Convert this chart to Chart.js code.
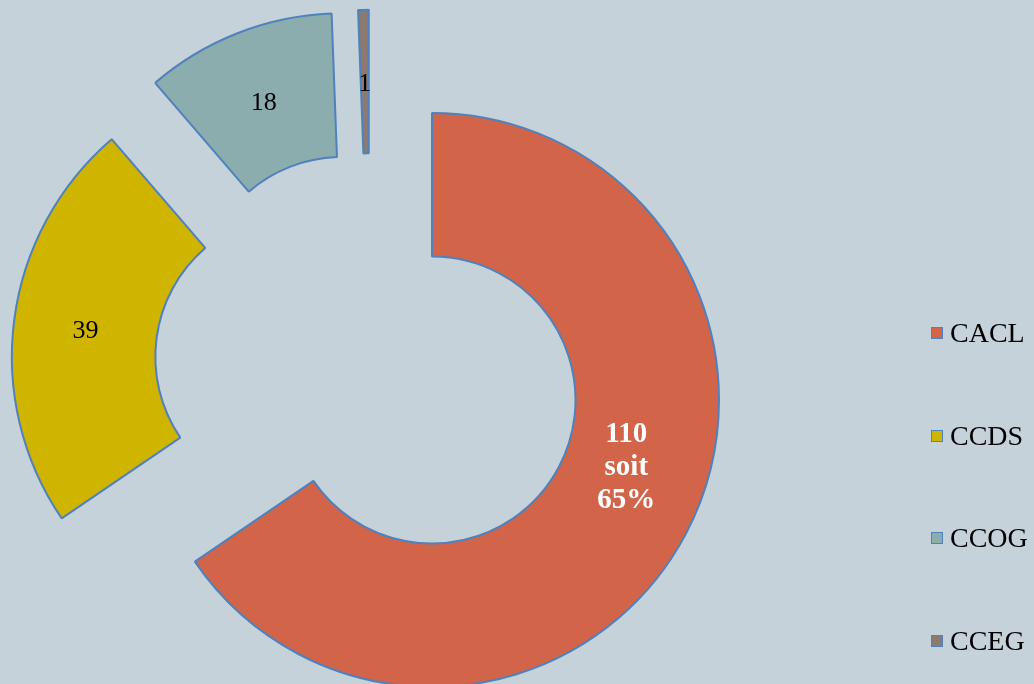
<!DOCTYPE html>
<html>
<head>
<meta charset="utf-8">
<script src="https://cdn.jsdelivr.net/npm/chart.js@4.4.1/dist/chart.umd.min.js"></script>
<style>
  html, body { margin: 0; padding: 0; background: #c6d2d9; }
  #wrap { position: relative; width: 1034px; height: 684px; overflow: hidden; }
  #chart { position: absolute; left: 0; top: 0; }
  #legend { position: absolute; left: 931px; top: 323px; font-family: "Liberation Serif", serif; font-size: 28px; color: #000; }
  .item { display: flex; align-items: center; height: 20px; margin-bottom: 82.7px; white-space: nowrap; }
  .box { width: 10px; height: 10px; border: 1.5px solid #4f81bd; margin-right: 7px; flex: none; }
</style>
</head>
<body>
<div id="wrap">
  <canvas id="chart" width="1034" height="684"></canvas>
  <div id="legend"></div>
</div>
<script>
const labels = ['CACL', 'CCDS', 'CCOG', 'CCEG'];
const values = [110, 39, 18, 1];
const colors = ['#d2644a', '#cfb400', '#8cadad', '#8a7a72'];

// exploded pieces: distance (px) and direction (deg, clockwise from top)
const explodeDist = [0, 140, 134, 121];
const explodeDir = [0, 288, 318, 328.5];

const total = values.reduce((a, b) => a + b, 0);

// Move the exploded slices away from the centre
const explodePlugin = {
  id: 'explode',
  afterDatasetUpdate(chart, args) {
    const area = chart.chartArea;
    const cx = (area.left + area.right) / 2;
    const cy = (area.top + area.bottom) / 2;
    args.meta.data.forEach((arc, i) => {
      const a = explodeDir[i] * Math.PI / 180;
      arc.x = cx + Math.sin(a) * explodeDist[i];
      arc.y = cy - Math.cos(a) * explodeDist[i];
    });
  },
};

// Value labels in the middle of each slice
const labelPlugin = {
  id: 'sliceLabels',
  afterDatasetsDraw(chart) {
    const ctx = chart.ctx;
    const meta = chart.getDatasetMeta(0);
    meta.data.forEach((arc, i) => {
      const { x, y, startAngle, endAngle, innerRadius, outerRadius } =
        arc.getProps(['x', 'y', 'startAngle', 'endAngle', 'innerRadius', 'outerRadius']);
      const mid = (startAngle + endAngle) / 2;
      const r = (innerRadius + outerRadius) / 2;
      let px = x + Math.cos(mid) * r;
      let py = y + Math.sin(mid) * r;
      ctx.save();
      ctx.textAlign = 'center';
      ctx.textBaseline = 'middle';
      if (i === 0) {
        // big slice: value + share, bold white, moved up a bit
        const lines = [String(values[i]), 'soit', Math.round(values[i] / total * 100) + '%'];
        px += 4;
        py -= 33;
        ctx.font = 'bold 29px "Liberation Serif", serif';
        ctx.fillStyle = '#ffffff';
        lines.forEach((t, k) => ctx.fillText(t, px, py + (k - 1) * 33));
      } else {
        ctx.font = '26px "Liberation Serif", serif';
        ctx.fillStyle = '#000000';
        ctx.fillText(String(values[i]), px, py + 3);
      }
      ctx.restore();
    });
  },
};

new Chart(document.getElementById('chart'), {
  type: 'doughnut',
  data: {
    labels,
    datasets: [{
      data: values,
      backgroundColor: colors,
      borderColor: '#4f81bd',
      borderWidth: 2,
      radius: 287,
      cutout: '50%',
      clip: false,
    }],
  },
  options: {
    responsive: false,
    animation: false,
    layout: { padding: { left: 0, right: 170, top: 116, bottom: 0 } },
    plugins: {
      legend: { display: false },
      tooltip: { enabled: false },
    },
  },
  plugins: [explodePlugin, labelPlugin],
});

// HTML legend
const legendEl = document.getElementById('legend');
labels.forEach((lab, i) => {
  const row = document.createElement('div');
  row.className = 'item';
  row.innerHTML = `<span class="box" style="background:${colors[i]}"></span><span>${lab}</span>`;
  legendEl.appendChild(row);
});
</script>
</body>
</html>
